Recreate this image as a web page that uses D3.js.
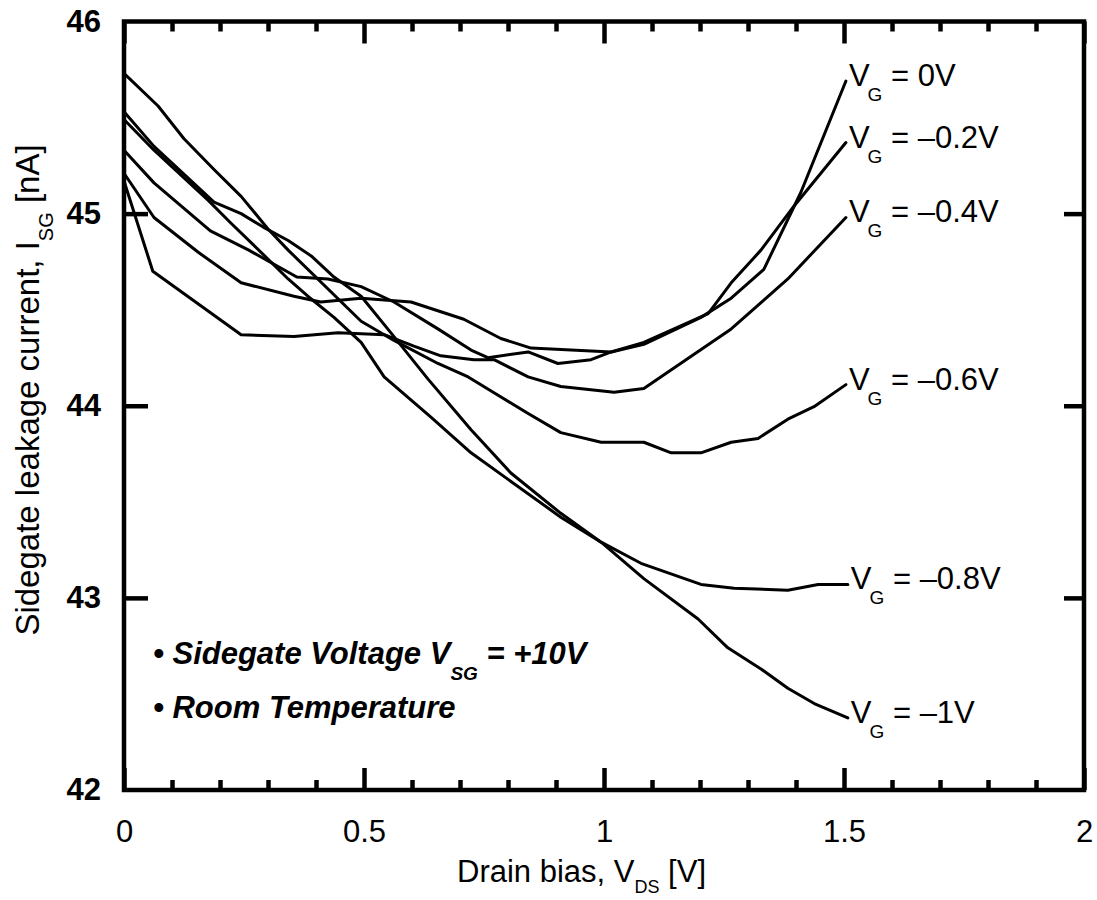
<!DOCTYPE html>
<html>
<head>
<meta charset="utf-8">
<script src="https://cdn.jsdelivr.net/npm/d3@7"></script>
<style>
  body { margin: 0; background: #fff; }
  svg { display: block; }
  text { font-family: "Liberation Sans", Arial, Helvetica, sans-serif; fill: #000; }
</style>
</head>
<body>
<svg id="chart" width="1097" height="900"></svg>
<script>
// Sidegate leakage current I_SG [nA] versus drain bias V_DS [V], one curve per gate bias.
const vg0 = [[0,45.33],[0.0625,45.16],[0.18,44.91],[0.26,44.81],[0.36,44.67],[0.425,44.66],[0.494,44.62],[0.5625,44.54],[0.654,44.40],[0.723,44.29],[0.758,44.25],[0.842,44.28],[0.904,44.22],[0.973,44.24],[1.015,44.28],[1.083,44.32],[1.202,44.46],[1.265,44.56],[1.333,44.71],[1.41,45.11],[1.504,45.69]];
const vgM02 = [[0,45.21],[0.0625,44.98],[0.154,44.80],[0.244,44.64],[0.354,44.57],[0.41,44.54],[0.494,44.56],[0.598,44.54],[0.708,44.45],[0.785,44.35],[0.848,44.30],[1.015,44.28],[1.083,44.33],[1.217,44.48],[1.265,44.64],[1.327,44.81],[1.396,45.04],[1.504,45.37]];
const vgM04 = [[0,45.17],[0.06,44.70],[0.244,44.37],[0.354,44.36],[0.446,44.38],[0.542,44.37],[0.604,44.31],[0.66,44.26],[0.729,44.24],[0.771,44.24],[0.842,44.15],[0.91,44.10],[1.021,44.07],[1.083,44.09],[1.265,44.40],[1.383,44.66],[1.504,44.98]];
const vgM06 = [[0,45.73],[0.071,45.56],[0.125,45.39],[0.1875,45.23],[0.244,45.09],[0.3,44.92],[0.342,44.81],[0.494,44.44],[0.5625,44.34],[0.654,44.22],[0.717,44.15],[0.842,43.96],[0.91,43.86],[0.994,43.81],[1.083,43.81],[1.14,43.755],[1.202,43.755],[1.265,43.81],[1.321,43.83],[1.383,43.93],[1.4375,43.995],[1.504,44.11]];
const vgM08 = [[0,45.53],[0.0625,45.35],[0.1875,45.06],[0.244,45.0],[0.29,44.93],[0.342,44.86],[0.39,44.78],[0.4375,44.67],[0.494,44.57],[0.5625,44.36],[0.633,44.14],[0.723,43.875],[0.806,43.65],[0.91,43.44],[0.994,43.29],[1.077,43.18],[1.202,43.07],[1.271,43.05],[1.383,43.04],[1.446,43.07],[1.508,43.07]];
const vgM10 = [[0,45.49],[0.0625,45.33],[0.175,45.07],[0.223,44.95],[0.285,44.80],[0.342,44.66],[0.383,44.57],[0.4375,44.46],[0.494,44.33],[0.542,44.15],[0.64,43.94],[0.723,43.755],[0.91,43.42],[0.994,43.29],[1.083,43.10],[1.196,42.89],[1.258,42.74],[1.327,42.63],[1.383,42.53],[1.438,42.45],[1.508,42.375]];

const curves = [vg0, vgM02, vgM04, vgM06, vgM08, vgM10];
const gateLabels = ["0V", "\u20130.2V", "\u20130.4V", "\u20130.6V", "\u20130.8V", "\u20131V"];

const xMajorTicks = [0, 0.5, 1, 1.5, 2];
const xMinorTicks = [0.1,0.2,0.3,0.4,0.6,0.7,0.8,0.9,1.1,1.2,1.3,1.4,1.6,1.7,1.8,1.9];
const yTickLabels = [42, 43, 44, 45, 46];
const yInnerTicks = [43, 44, 45];

const svg = d3.select("#chart");
const x = d3.scaleLinear().domain([0, 2]).range([124, 1084]);
const y = d3.scaleLinear().domain([42, 46]).range([790, 21.5]);

const tickStroke = 4.5;
function styleAxis(g, fontSize, weight) {
  g.select(".domain").remove();
  g.selectAll(".tick line").attr("stroke", "#000").attr("stroke-width", tickStroke);
  g.selectAll(".tick text")
    .style("font-size", fontSize + "px")
    .style("font-weight", weight)
    .style("font-family", '"Liberation Sans", Arial, Helvetica, sans-serif')
    .attr("fill", "#000");
}

// bottom axis: labelled major ticks and short minor ticks, all pointing inward
svg.append("g").attr("transform", `translate(0,${y(42)})`)
  .call(d3.axisBottom(x).tickValues(xMajorTicks).tickSize(-22).tickPadding(30).tickFormat(d3.format("")))
  .call(g => styleAxis(g, 31, "normal"));
svg.append("g").attr("transform", `translate(0,${y(42)})`)
  .call(d3.axisBottom(x).tickValues(xMinorTicks).tickSize(-10).tickFormat(""))
  .call(g => styleAxis(g, 31, "normal"));

// top axis mirrors the bottom ticks
svg.append("g").attr("transform", `translate(0,${y(46)})`)
  .call(d3.axisTop(x).tickValues(xMajorTicks).tickSize(-22).tickFormat(""))
  .call(g => styleAxis(g, 31, "normal"));
svg.append("g").attr("transform", `translate(0,${y(46)})`)
  .call(d3.axisTop(x).tickValues(xMinorTicks).tickSize(-10).tickFormat(""))
  .call(g => styleAxis(g, 31, "normal"));

// left axis with bold numbers
svg.append("g").attr("transform", `translate(${x(0)},0)`)
  .call(d3.axisLeft(y).tickValues(yTickLabels).tickSize(0).tickPadding(23).tickFormat(d3.format("d")))
  .call(g => styleAxis(g, 31, "bold"));
svg.append("g").attr("transform", `translate(${x(0)},0)`)
  .call(d3.axisLeft(y).tickValues(yInnerTicks).tickSize(-24).tickFormat(""))
  .call(g => styleAxis(g, 31, "normal"));

// right axis, unlabelled
svg.append("g").attr("transform", `translate(${x(2)},0)`)
  .call(d3.axisRight(y).tickValues(yInnerTicks).tickSize(-20).tickFormat(""))
  .call(g => styleAxis(g, 31, "normal"));

// plot frame
svg.append("rect")
  .attr("x", x(0)).attr("y", y(46))
  .attr("width", x(2) - x(0)).attr("height", y(42) - y(46))
  .attr("fill", "none").attr("stroke", "#000").attr("stroke-width", tickStroke);

// curves
const line = d3.line().x(d => x(d[0])).y(d => y(d[1]));
svg.append("g").selectAll("path").data(curves).join("path")
  .attr("d", line)
  .attr("fill", "none").attr("stroke", "#000")
  .attr("stroke-width", 3).attr("stroke-linejoin", "round").attr("stroke-linecap", "round");

// gate-bias labels at the end of each curve
const labels = svg.append("g").selectAll("text").data(curves).join("text")
  .attr("x", d => x(d[d.length - 1][0]) + 3)
  .attr("y", d => y(d[d.length - 1][1]) + 5)
  .style("font-size", "31px");
labels.append("tspan").text("V");
labels.append("tspan").attr("dx", -2).attr("dy", 15).style("font-size", "19px").text("G");
labels.append("tspan").attr("dy", -15).text((d, i) => " = " + gateLabels[i]);

// measurement conditions
const notes = svg.append("g").style("font-size", "31px").style("font-weight", "bold").style("font-style", "italic");
const n1 = notes.append("text").attr("x", 153).attr("y", 664);
n1.append("tspan").text("\u2022 Sidegate Voltage V");
n1.append("tspan").attr("dy", 16).style("font-size", "19px").text("SG");
n1.append("tspan").attr("dy", -16).text(" = +10V");
notes.append("text").attr("x", 153).attr("y", 718).text("\u2022 Room Temperature");

// axis titles
const xt = svg.append("text").attr("x", 457).attr("y", 882).style("font-size", "31px");
xt.append("tspan").text("Drain bias, V");
xt.append("tspan").attr("dy", 11).style("font-size", "18px").text("DS");
xt.append("tspan").attr("dy", -11).text(" [V]");

const yt = svg.append("text")
  .attr("transform", "translate(39,390) rotate(-90)")
  .attr("text-anchor", "middle")
  .style("font-size", "33px");
yt.append("tspan").text("Sidegate leakage current, I");
yt.append("tspan").attr("dy", 14).style("font-size", "20px").text("SG");
yt.append("tspan").attr("dy", -14).text(" [nA]");
</script>
</body>
</html>
